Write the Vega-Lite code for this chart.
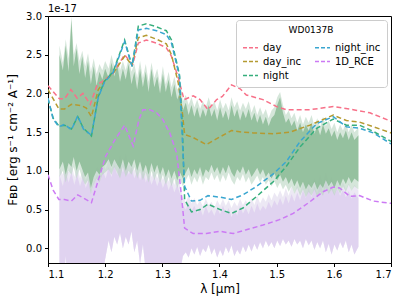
{
  "$schema": "https://vega.github.io/schema/vega-lite/v6.json",
  "width": 343,
  "height": 247,
  "autosize": {"type": "none"},
  "padding": {"left": 48, "top": 16, "right": 16, "bottom": 41},
  "config": {
    "font": "DejaVu Sans",
    "view": {"stroke": "black", "strokeWidth": 1},
    "axis": {"grid": false, "domainColor": "black", "tickColor": "black", "labelColor": "black", "titleColor": "black", "labelFontSize": 10, "titleFontSize": 12, "titleFontWeight": "normal", "tickSize": 3.5, "labelPadding": 3}
  },
  "datasets": {
    "note": [{"label": "1e-17", "x": 1.1, "y": 3.0}],
    "obs": [
      {"x":1.120,"lo":1.02,"hi":2.50,"lo2":0.92,"hi2":2.62},{"x":1.126,"lo":1.12,"hi":2.30,"lo2":1.00,"hi2":2.40},{"x":1.131,"lo":0.95,"hi":2.62,"lo2":0.85,"hi2":2.70},{"x":1.136,"lo":1.10,"hi":2.28,"lo2":1.00,"hi2":2.45},{"x":1.141,"lo":1.05,"hi":2.95,"lo2":0.95,"hi2":3.0},{"x":1.145,"lo":1.18,"hi":2.35,"lo2":1.05,"hi2":2.50},{"x":1.150,"lo":1.00,"hi":2.58,"lo2":0.90,"hi2":2.65},{"x":1.155,"lo":1.12,"hi":2.25,"lo2":1.02,"hi2":2.42},{"x":1.160,"lo":1.02,"hi":2.48,"lo2":0.90,"hi2":2.55},{"x":1.165,"lo":0.92,"hi":2.20,"lo2":0.82,"hi2":2.35},{"x":1.170,"lo":0.98,"hi":2.42,"lo2":0.88,"hi2":2.52},{"x":1.175,"lo":0.78,"hi":2.12,"lo2":0.70,"hi2":2.28},{"x":1.180,"lo":0.92,"hi":2.35,"lo2":0.82,"hi2":2.45},{"x":1.185,"lo":1.00,"hi":2.10,"lo2":0.90,"hi2":2.25},{"x":1.190,"lo":0.95,"hi":2.28,"lo2":0.85,"hi2":2.38},{"x":1.195,"lo":1.05,"hi":2.18,"lo2":0.95,"hi2":2.30},{"x":1.200,"lo":1.08,"hi":2.32,"lo2":0.98,"hi2":2.42},{"x":1.206,"lo":1.15,"hi":2.20,"lo2":1.02,"hi2":2.32},{"x":1.211,"lo":1.05,"hi":2.40,"lo2":0.95,"hi2":2.50},{"x":1.216,"lo":1.15,"hi":2.22,"lo2":1.05,"hi2":2.35},{"x":1.221,"lo":1.08,"hi":2.38,"lo2":0.98,"hi2":2.48},{"x":1.226,"lo":1.02,"hi":2.15,"lo2":0.90,"hi2":2.30},{"x":1.231,"lo":1.15,"hi":2.32,"lo2":1.05,"hi2":2.42},{"x":1.236,"lo":1.00,"hi":2.18,"lo2":0.92,"hi2":2.30},{"x":1.241,"lo":1.12,"hi":2.38,"lo2":1.00,"hi2":2.45},{"x":1.246,"lo":1.05,"hi":2.12,"lo2":0.95,"hi2":2.28},{"x":1.251,"lo":1.15,"hi":2.28,"lo2":1.05,"hi2":2.38},{"x":1.256,"lo":1.00,"hi":2.05,"lo2":0.90,"hi2":2.20},{"x":1.261,"lo":1.12,"hi":2.32,"lo2":1.00,"hi2":2.42},{"x":1.266,"lo":0.98,"hi":2.08,"lo2":0.88,"hi2":2.20},{"x":1.271,"lo":1.08,"hi":2.28,"lo2":0.98,"hi2":2.38},{"x":1.276,"lo":0.95,"hi":2.02,"lo2":0.85,"hi2":2.15},{"x":1.281,"lo":1.10,"hi":2.32,"lo2":1.00,"hi2":2.40},{"x":1.286,"lo":0.98,"hi":2.08,"lo2":0.88,"hi2":2.20},{"x":1.291,"lo":1.08,"hi":2.22,"lo2":0.98,"hi2":2.32},{"x":1.296,"lo":0.95,"hi":2.00,"lo2":0.85,"hi2":2.12},{"x":1.301,"lo":1.05,"hi":2.25,"lo2":0.95,"hi2":2.35},{"x":1.306,"lo":0.92,"hi":2.02,"lo2":0.82,"hi2":2.12},{"x":1.311,"lo":1.02,"hi":2.18,"lo2":0.92,"hi2":2.28},{"x":1.316,"lo":0.90,"hi":1.95,"lo2":0.80,"hi2":2.08},{"x":1.321,"lo":1.00,"hi":2.12,"lo2":0.90,"hi2":2.22},{"x":1.326,"lo":0.88,"hi":1.92,"lo2":0.78,"hi2":2.05},{"x":1.331,"lo":0.98,"hi":2.02,"lo2":0.88,"hi2":2.12},{"x":1.336,"lo":0.90,"hi":1.78,"lo2":0.80,"hi2":1.90},{"x":1.341,"lo":0.98,"hi":1.88,"lo2":0.88,"hi2":1.98},{"x":1.346,"lo":1.05,"hi":1.72,"lo2":0.95,"hi2":1.85},{"x":1.351,"lo":0.92,"hi":1.85,"lo2":0.82,"hi2":1.95},{"x":1.356,"lo":1.02,"hi":1.70,"lo2":0.92,"hi2":1.82},{"x":1.361,"lo":0.95,"hi":1.82,"lo2":0.85,"hi2":1.92},{"x":1.366,"lo":1.05,"hi":1.68,"lo2":0.95,"hi2":1.80},{"x":1.371,"lo":0.92,"hi":1.80,"lo2":0.82,"hi2":1.90},{"x":1.376,"lo":1.02,"hi":1.70,"lo2":0.92,"hi2":1.82},{"x":1.381,"lo":0.98,"hi":1.85,"lo2":0.88,"hi2":1.95},{"x":1.386,"lo":1.08,"hi":1.70,"lo2":0.98,"hi2":1.82},{"x":1.391,"lo":0.98,"hi":1.80,"lo2":0.88,"hi2":1.90},{"x":1.396,"lo":1.05,"hi":1.65,"lo2":0.95,"hi2":1.78},{"x":1.401,"lo":0.95,"hi":1.82,"lo2":0.85,"hi2":1.92},{"x":1.406,"lo":1.05,"hi":1.68,"lo2":0.95,"hi2":1.80},{"x":1.411,"lo":0.97,"hi":1.78,"lo2":0.87,"hi2":1.88},{"x":1.416,"lo":1.08,"hi":1.65,"lo2":0.98,"hi2":1.78},{"x":1.421,"lo":0.98,"hi":1.85,"lo2":0.88,"hi2":1.95},{"x":1.426,"lo":0.92,"hi":1.70,"lo2":0.82,"hi2":1.82},{"x":1.431,"lo":1.02,"hi":1.80,"lo2":0.92,"hi2":1.90},{"x":1.436,"lo":0.97,"hi":1.65,"lo2":0.87,"hi2":1.78},{"x":1.441,"lo":1.06,"hi":1.78,"lo2":0.96,"hi2":1.88},{"x":1.446,"lo":0.95,"hi":1.68,"lo2":0.85,"hi2":1.80},{"x":1.451,"lo":1.02,"hi":1.80,"lo2":0.92,"hi2":1.90},{"x":1.456,"lo":0.92,"hi":1.65,"lo2":0.82,"hi2":1.75},{"x":1.461,"lo":0.98,"hi":1.75,"lo2":0.88,"hi2":1.85},{"x":1.466,"lo":1.04,"hi":1.62,"lo2":0.94,"hi2":1.72},{"x":1.471,"lo":0.95,"hi":1.72,"lo2":0.85,"hi2":1.82},{"x":1.476,"lo":1.02,"hi":1.60,"lo2":0.92,"hi2":1.72},{"x":1.481,"lo":0.92,"hi":1.70,"lo2":0.82,"hi2":1.80},{"x":1.486,"lo":0.98,"hi":1.58,"lo2":0.88,"hi2":1.68},{"x":1.491,"lo":0.90,"hi":1.68,"lo2":0.80,"hi2":1.78},{"x":1.496,"lo":0.97,"hi":1.72,"lo2":0.87,"hi2":1.82},{"x":1.501,"lo":0.88,"hi":1.85,"lo2":0.78,"hi2":1.95},{"x":1.506,"lo":0.95,"hi":1.95,"lo2":0.85,"hi2":2.02},{"x":1.511,"lo":0.86,"hi":1.75,"lo2":0.76,"hi2":1.85},{"x":1.516,"lo":0.92,"hi":1.62,"lo2":0.82,"hi2":1.72},{"x":1.521,"lo":0.83,"hi":1.68,"lo2":0.73,"hi2":1.78},{"x":1.526,"lo":0.90,"hi":1.58,"lo2":0.80,"hi2":1.68},{"x":1.531,"lo":0.80,"hi":1.65,"lo2":0.70,"hi2":1.75},{"x":1.536,"lo":0.88,"hi":1.52,"lo2":0.78,"hi2":1.62},{"x":1.541,"lo":0.78,"hi":1.62,"lo2":0.68,"hi2":1.72},{"x":1.546,"lo":0.86,"hi":1.50,"lo2":0.76,"hi2":1.60},{"x":1.551,"lo":0.76,"hi":1.60,"lo2":0.66,"hi2":1.70},{"x":1.556,"lo":0.83,"hi":1.52,"lo2":0.73,"hi2":1.62},{"x":1.561,"lo":0.78,"hi":1.62,"lo2":0.68,"hi2":1.72},{"x":1.566,"lo":0.86,"hi":1.48,"lo2":0.76,"hi2":1.58},{"x":1.571,"lo":0.76,"hi":1.58,"lo2":0.66,"hi2":1.68},{"x":1.576,"lo":0.83,"hi":1.46,"lo2":0.73,"hi2":1.56},{"x":1.581,"lo":0.78,"hi":1.60,"lo2":0.68,"hi2":1.70},{"x":1.586,"lo":0.88,"hi":1.48,"lo2":0.78,"hi2":1.58},{"x":1.591,"lo":0.80,"hi":1.55,"lo2":0.70,"hi2":1.65},{"x":1.596,"lo":0.86,"hi":1.44,"lo2":0.76,"hi2":1.54},{"x":1.601,"lo":0.78,"hi":1.52,"lo2":0.68,"hi2":1.62},{"x":1.606,"lo":0.88,"hi":1.40,"lo2":0.78,"hi2":1.50},{"x":1.611,"lo":0.80,"hi":1.50,"lo2":0.70,"hi2":1.60},{"x":1.616,"lo":0.90,"hi":1.42,"lo2":0.80,"hi2":1.52},{"x":1.621,"lo":0.83,"hi":1.52,"lo2":0.73,"hi2":1.62},{"x":1.626,"lo":0.92,"hi":1.40,"lo2":0.82,"hi2":1.50},{"x":1.631,"lo":0.84,"hi":1.50,"lo2":0.74,"hi2":1.60},{"x":1.636,"lo":0.90,"hi":1.40,"lo2":0.80,"hi2":1.50},{"x":1.643,"lo":0.86,"hi":1.46,"lo2":0.76,"hi2":1.56}
    ],
    "rce": [
      {"x":1.120,"lo":-0.6,"hi":0.95,"hi2":1.05},{"x":1.126,"lo":-0.6,"hi":0.80,"hi2":0.95},{"x":1.131,"lo":-0.1,"hi":1.00,"hi2":1.08},{"x":1.136,"lo":-0.6,"hi":0.85,"hi2":0.98},{"x":1.141,"lo":-0.6,"hi":0.98,"hi2":1.10},{"x":1.146,"lo":-0.6,"hi":0.82,"hi2":0.92},{"x":1.151,"lo":-0.6,"hi":0.95,"hi2":1.06},{"x":1.156,"lo":-0.6,"hi":0.80,"hi2":0.90},{"x":1.161,"lo":-0.6,"hi":0.92,"hi2":1.02},{"x":1.166,"lo":-0.6,"hi":0.78,"hi2":0.88},{"x":1.171,"lo":-0.6,"hi":0.88,"hi2":0.98},{"x":1.176,"lo":-0.6,"hi":0.72,"hi2":0.84},{"x":1.181,"lo":-0.6,"hi":0.85,"hi2":0.95},{"x":1.186,"lo":-0.6,"hi":0.95,"hi2":1.05},{"x":1.191,"lo":-0.6,"hi":0.88,"hi2":1.00},{"x":1.196,"lo":-0.3,"hi":1.00,"hi2":1.10},{"x":1.201,"lo":-0.1,"hi":0.90,"hi2":1.02},{"x":1.206,"lo":0.10,"hi":1.05,"hi2":1.15},{"x":1.211,"lo":-0.05,"hi":0.92,"hi2":1.02},{"x":1.216,"lo":0.15,"hi":1.08,"hi2":1.18},{"x":1.221,"lo":0.05,"hi":0.95,"hi2":1.06},{"x":1.226,"lo":0.20,"hi":1.10,"hi2":1.20},{"x":1.231,"lo":0.00,"hi":0.98,"hi2":1.08},{"x":1.236,"lo":0.15,"hi":1.12,"hi2":1.22},{"x":1.241,"lo":0.05,"hi":0.95,"hi2":1.06},{"x":1.246,"lo":0.22,"hi":1.05,"hi2":1.15},{"x":1.251,"lo":-0.05,"hi":0.90,"hi2":1.00},{"x":1.256,"lo":0.10,"hi":1.00,"hi2":1.12},{"x":1.261,"lo":-0.2,"hi":0.88,"hi2":0.98},{"x":1.266,"lo":0.05,"hi":1.00,"hi2":1.10},{"x":1.271,"lo":-0.3,"hi":0.85,"hi2":0.96},{"x":1.276,"lo":-0.6,"hi":0.95,"hi2":1.05},{"x":1.281,"lo":-0.6,"hi":0.82,"hi2":0.92},{"x":1.286,"lo":-0.6,"hi":0.92,"hi2":1.02},{"x":1.291,"lo":-0.6,"hi":0.80,"hi2":0.90},{"x":1.296,"lo":-0.6,"hi":0.90,"hi2":1.00},{"x":1.301,"lo":-0.6,"hi":0.78,"hi2":0.88},{"x":1.306,"lo":-0.6,"hi":0.88,"hi2":0.98},{"x":1.311,"lo":-0.6,"hi":0.75,"hi2":0.86},{"x":1.316,"lo":-0.6,"hi":0.85,"hi2":0.95},{"x":1.321,"lo":-0.6,"hi":0.72,"hi2":0.82},{"x":1.326,"lo":-0.6,"hi":0.82,"hi2":0.92},{"x":1.331,"lo":-0.3,"hi":0.70,"hi2":0.80},{"x":1.336,"lo":-0.1,"hi":0.55,"hi2":0.66},{"x":1.341,"lo":-0.05,"hi":0.50,"hi2":0.60},{"x":1.346,"lo":-0.12,"hi":0.58,"hi2":0.68},{"x":1.351,"lo":0.00,"hi":0.48,"hi2":0.58},{"x":1.356,"lo":-0.08,"hi":0.55,"hi2":0.65},{"x":1.361,"lo":0.02,"hi":0.45,"hi2":0.56},{"x":1.366,"lo":-0.10,"hi":0.52,"hi2":0.62},{"x":1.371,"lo":0.00,"hi":0.42,"hi2":0.54},{"x":1.376,"lo":-0.05,"hi":0.55,"hi2":0.64},{"x":1.381,"lo":0.05,"hi":0.45,"hi2":0.56},{"x":1.386,"lo":-0.08,"hi":0.50,"hi2":0.60},{"x":1.391,"lo":0.00,"hi":0.42,"hi2":0.52},{"x":1.396,"lo":-0.12,"hi":0.52,"hi2":0.62},{"x":1.401,"lo":-0.02,"hi":0.44,"hi2":0.55},{"x":1.406,"lo":-0.10,"hi":0.55,"hi2":0.64},{"x":1.411,"lo":0.02,"hi":0.45,"hi2":0.55},{"x":1.416,"lo":-0.06,"hi":0.52,"hi2":0.62},{"x":1.421,"lo":0.04,"hi":0.40,"hi2":0.52},{"x":1.426,"lo":-0.10,"hi":0.50,"hi2":0.60},{"x":1.431,"lo":-0.02,"hi":0.42,"hi2":0.54},{"x":1.436,"lo":-0.08,"hi":0.55,"hi2":0.64},{"x":1.441,"lo":0.03,"hi":0.45,"hi2":0.56},{"x":1.446,"lo":-0.05,"hi":0.52,"hi2":0.62},{"x":1.451,"lo":0.05,"hi":0.44,"hi2":0.55},{"x":1.456,"lo":-0.04,"hi":0.55,"hi2":0.65},{"x":1.461,"lo":0.06,"hi":0.46,"hi2":0.56},{"x":1.466,"lo":-0.02,"hi":0.58,"hi2":0.68},{"x":1.471,"lo":0.08,"hi":0.48,"hi2":0.58},{"x":1.476,"lo":0.00,"hi":0.55,"hi2":0.66},{"x":1.481,"lo":0.10,"hi":0.50,"hi2":0.60},{"x":1.486,"lo":0.02,"hi":0.60,"hi2":0.70},{"x":1.491,"lo":0.08,"hi":0.52,"hi2":0.62},{"x":1.496,"lo":0.00,"hi":0.62,"hi2":0.72},{"x":1.501,"lo":0.10,"hi":0.55,"hi2":0.66},{"x":1.506,"lo":0.03,"hi":0.65,"hi2":0.75},{"x":1.511,"lo":0.12,"hi":0.56,"hi2":0.66},{"x":1.516,"lo":0.05,"hi":0.68,"hi2":0.78},{"x":1.521,"lo":0.10,"hi":0.58,"hi2":0.68},{"x":1.526,"lo":0.02,"hi":0.70,"hi2":0.80},{"x":1.531,"lo":0.12,"hi":0.60,"hi2":0.70},{"x":1.536,"lo":0.05,"hi":0.72,"hi2":0.82},{"x":1.541,"lo":0.10,"hi":0.62,"hi2":0.72},{"x":1.546,"lo":0.00,"hi":0.75,"hi2":0.85},{"x":1.551,"lo":0.12,"hi":0.65,"hi2":0.75},{"x":1.556,"lo":0.04,"hi":0.78,"hi2":0.88},{"x":1.561,"lo":0.10,"hi":0.66,"hi2":0.76},{"x":1.566,"lo":-0.02,"hi":0.80,"hi2":0.90},{"x":1.571,"lo":0.08,"hi":0.70,"hi2":0.80},{"x":1.576,"lo":0.00,"hi":0.85,"hi2":0.95},{"x":1.581,"lo":0.10,"hi":0.72,"hi2":0.82},{"x":1.586,"lo":-0.05,"hi":0.90,"hi2":0.98},{"x":1.591,"lo":0.06,"hi":0.74,"hi2":0.84},{"x":1.596,"lo":-0.08,"hi":0.82,"hi2":0.92},{"x":1.601,"lo":0.05,"hi":0.70,"hi2":0.80},{"x":1.606,"lo":-0.03,"hi":0.78,"hi2":0.88},{"x":1.611,"lo":0.08,"hi":0.68,"hi2":0.78},{"x":1.616,"lo":0.00,"hi":0.76,"hi2":0.86},{"x":1.621,"lo":0.10,"hi":0.66,"hi2":0.76},{"x":1.626,"lo":-0.05,"hi":0.74,"hi2":0.84},{"x":1.631,"lo":0.05,"hi":0.64,"hi2":0.74},{"x":1.636,"lo":-0.08,"hi":0.72,"hi2":0.82},{"x":1.643,"lo":0.02,"hi":0.65,"hi2":0.75}
    ],
    "lines": [
      {"s":"day","x":1.1,"y":2.10},{"s":"day","x":1.12,"y":1.93},{"s":"day","x":1.129,"y":1.93},{"s":"day","x":1.14,"y":2.05},{"s":"day","x":1.151,"y":1.94},{"s":"day","x":1.161,"y":2.0},{"s":"day","x":1.174,"y":1.86},{"s":"day","x":1.186,"y":2.11},{"s":"day","x":1.196,"y":2.16},{"s":"day","x":1.214,"y":2.26},{"s":"day","x":1.234,"y":2.50},{"s":"day","x":1.248,"y":2.37},{"s":"day","x":1.258,"y":2.65},{"s":"day","x":1.272,"y":2.69},{"s":"day","x":1.29,"y":2.65},{"s":"day","x":1.307,"y":2.59},{"s":"day","x":1.316,"y":2.48},{"s":"day","x":1.328,"y":2.2},{"s":"day","x":1.338,"y":1.92},{"s":"day","x":1.354,"y":1.97},{"s":"day","x":1.366,"y":1.92},{"s":"day","x":1.38,"y":1.79},{"s":"day","x":1.395,"y":1.92},{"s":"day","x":1.405,"y":1.96},{"s":"day","x":1.421,"y":2.11},{"s":"day","x":1.436,"y":2.06},{"s":"day","x":1.447,"y":1.98},{"s":"day","x":1.476,"y":1.92},{"s":"day","x":1.5,"y":1.83},{"s":"day","x":1.517,"y":1.79},{"s":"day","x":1.558,"y":1.79},{"s":"day","x":1.599,"y":1.83},{"s":"day","x":1.634,"y":1.79},{"s":"day","x":1.663,"y":1.75},{"s":"day","x":1.7,"y":1.64},
      {"s":"day_inc","x":1.1,"y":2.05},{"s":"day_inc","x":1.119,"y":1.80},{"s":"day_inc","x":1.129,"y":1.80},{"s":"day_inc","x":1.141,"y":1.86},{"s":"day_inc","x":1.159,"y":1.84},{"s":"day_inc","x":1.167,"y":1.81},{"s":"day_inc","x":1.176,"y":1.70},{"s":"day_inc","x":1.188,"y":2.05},{"s":"day_inc","x":1.201,"y":2.18},{"s":"day_inc","x":1.214,"y":2.26},{"s":"day_inc","x":1.234,"y":2.48},{"s":"day_inc","x":1.247,"y":2.37},{"s":"day_inc","x":1.258,"y":2.72},{"s":"day_inc","x":1.272,"y":2.75},{"s":"day_inc","x":1.29,"y":2.70},{"s":"day_inc","x":1.307,"y":2.64},{"s":"day_inc","x":1.316,"y":2.5},{"s":"day_inc","x":1.328,"y":2.13},{"s":"day_inc","x":1.335,"y":1.75},{"s":"day_inc","x":1.339,"y":1.47},{"s":"day_inc","x":1.354,"y":1.43},{"s":"day_inc","x":1.377,"y":1.34},{"s":"day_inc","x":1.401,"y":1.44},{"s":"day_inc","x":1.421,"y":1.52},{"s":"day_inc","x":1.441,"y":1.50},{"s":"day_inc","x":1.459,"y":1.49},{"s":"day_inc","x":1.494,"y":1.48},{"s":"day_inc","x":1.523,"y":1.50},{"s":"day_inc","x":1.558,"y":1.59},{"s":"day_inc","x":1.599,"y":1.72},{"s":"day_inc","x":1.622,"y":1.65},{"s":"day_inc","x":1.645,"y":1.63},{"s":"day_inc","x":1.669,"y":1.57},{"s":"day_inc","x":1.7,"y":1.49},
      {"s":"night","x":1.1,"y":1.93},{"s":"night","x":1.109,"y":1.68},{"s":"night","x":1.119,"y":1.58},{"s":"night","x":1.129,"y":1.59},{"s":"night","x":1.141,"y":1.54},{"s":"night","x":1.152,"y":1.70},{"s":"night","x":1.162,"y":1.55},{"s":"night","x":1.176,"y":1.45},{"s":"night","x":1.188,"y":1.96},{"s":"night","x":1.199,"y":2.16},{"s":"night","x":1.214,"y":2.28},{"s":"night","x":1.234,"y":2.69},{"s":"night","x":1.247,"y":2.35},{"s":"night","x":1.258,"y":2.87},{"s":"night","x":1.272,"y":2.90},{"s":"night","x":1.29,"y":2.86},{"s":"night","x":1.307,"y":2.81},{"s":"night","x":1.316,"y":2.69},{"s":"night","x":1.330,"y":2.24},{"s":"night","x":1.335,"y":1.57},{"s":"night","x":1.339,"y":0.63},{"s":"night","x":1.351,"y":0.47},{"s":"night","x":1.366,"y":0.50},{"s":"night","x":1.380,"y":0.57},{"s":"night","x":1.401,"y":0.50},{"s":"night","x":1.421,"y":0.45},{"s":"night","x":1.441,"y":0.52},{"s":"night","x":1.465,"y":0.67},{"s":"night","x":1.494,"y":0.86},{"s":"night","x":1.517,"y":1.06},{"s":"night","x":1.541,"y":1.31},{"s":"night","x":1.570,"y":1.55},{"s":"night","x":1.599,"y":1.67},{"s":"night","x":1.622,"y":1.59},{"s":"night","x":1.645,"y":1.59},{"s":"night","x":1.669,"y":1.51},{"s":"night","x":1.7,"y":1.38},
      {"s":"night_inc","x":1.1,"y":1.94},{"s":"night_inc","x":1.109,"y":1.67},{"s":"night_inc","x":1.119,"y":1.57},{"s":"night_inc","x":1.129,"y":1.60},{"s":"night_inc","x":1.141,"y":1.53},{"s":"night_inc","x":1.152,"y":1.71},{"s":"night_inc","x":1.162,"y":1.54},{"s":"night_inc","x":1.176,"y":1.46},{"s":"night_inc","x":1.188,"y":1.95},{"s":"night_inc","x":1.199,"y":2.15},{"s":"night_inc","x":1.214,"y":2.27},{"s":"night_inc","x":1.234,"y":2.67},{"s":"night_inc","x":1.247,"y":2.35},{"s":"night_inc","x":1.258,"y":2.82},{"s":"night_inc","x":1.272,"y":2.84},{"s":"night_inc","x":1.29,"y":2.81},{"s":"night_inc","x":1.307,"y":2.76},{"s":"night_inc","x":1.316,"y":2.65},{"s":"night_inc","x":1.330,"y":2.22},{"s":"night_inc","x":1.335,"y":1.40},{"s":"night_inc","x":1.339,"y":0.80},{"s":"night_inc","x":1.351,"y":0.61},{"s":"night_inc","x":1.366,"y":0.62},{"s":"night_inc","x":1.380,"y":0.68},{"s":"night_inc","x":1.401,"y":0.66},{"s":"night_inc","x":1.421,"y":0.63},{"s":"night_inc","x":1.441,"y":0.69},{"s":"night_inc","x":1.465,"y":0.80},{"s":"night_inc","x":1.494,"y":0.96},{"s":"night_inc","x":1.517,"y":1.12},{"s":"night_inc","x":1.541,"y":1.38},{"s":"night_inc","x":1.570,"y":1.61},{"s":"night_inc","x":1.599,"y":1.70},{"s":"night_inc","x":1.622,"y":1.57},{"s":"night_inc","x":1.645,"y":1.55},{"s":"night_inc","x":1.669,"y":1.49},{"s":"night_inc","x":1.7,"y":1.35},
      {"s":"1D_RCE","x":1.1,"y":0.95},{"s":"1D_RCE","x":1.109,"y":0.75},{"s":"1D_RCE","x":1.119,"y":0.63},{"s":"1D_RCE","x":1.129,"y":0.63},{"s":"1D_RCE","x":1.141,"y":0.61},{"s":"1D_RCE","x":1.152,"y":0.69},{"s":"1D_RCE","x":1.162,"y":0.65},{"s":"1D_RCE","x":1.176,"y":0.59},{"s":"1D_RCE","x":1.188,"y":0.88},{"s":"1D_RCE","x":1.201,"y":1.19},{"s":"1D_RCE","x":1.217,"y":1.40},{"s":"1D_RCE","x":1.234,"y":1.59},{"s":"1D_RCE","x":1.249,"y":1.32},{"s":"1D_RCE","x":1.259,"y":1.66},{"s":"1D_RCE","x":1.266,"y":1.79},{"s":"1D_RCE","x":1.278,"y":1.79},{"s":"1D_RCE","x":1.29,"y":1.75},{"s":"1D_RCE","x":1.301,"y":1.66},{"s":"1D_RCE","x":1.313,"y":1.49},{"s":"1D_RCE","x":1.325,"y":1.23},{"s":"1D_RCE","x":1.333,"y":0.71},{"s":"1D_RCE","x":1.339,"y":0.26},{"s":"1D_RCE","x":1.354,"y":0.19},{"s":"1D_RCE","x":1.377,"y":0.19},{"s":"1D_RCE","x":1.401,"y":0.22},{"s":"1D_RCE","x":1.424,"y":0.19},{"s":"1D_RCE","x":1.447,"y":0.24},{"s":"1D_RCE","x":1.476,"y":0.30},{"s":"1D_RCE","x":1.505,"y":0.37},{"s":"1D_RCE","x":1.529,"y":0.45},{"s":"1D_RCE","x":1.558,"y":0.60},{"s":"1D_RCE","x":1.581,"y":0.73},{"s":"1D_RCE","x":1.599,"y":0.79},{"s":"1D_RCE","x":1.61,"y":0.78},{"s":"1D_RCE","x":1.628,"y":0.67},{"s":"1D_RCE","x":1.645,"y":0.68},{"s":"1D_RCE","x":1.669,"y":0.61},{"s":"1D_RCE","x":1.7,"y":0.58}
    ]
  },
  "layer": [
    {
      "data": {"name": "rce"},
      "mark": {"type": "area", "clip": true, "color": "#eae6f3", "opacity": 0.9},
      "encoding": {
        "x": {"field": "x", "type": "quantitative", "scale": {"domain": [1.1, 1.7], "nice": false, "zero": false}},
        "y": {"field": "lo", "type": "quantitative", "scale": {"domain": [-0.19, 3.0], "nice": false, "zero": false}},
        "y2": {"field": "hi2"}
      }
    },
    {
      "data": {"name": "rce"},
      "mark": {"type": "area", "clip": true, "color": "#dfd0ef", "opacity": 0.9},
      "encoding": {
        "x": {"field": "x", "type": "quantitative"},
        "y": {"field": "lo", "type": "quantitative"},
        "y2": {"field": "hi"}
      }
    },
    {
      "data": {"name": "obs"},
      "mark": {"type": "area", "clip": true, "color": "#b9d6c1", "opacity": 0.6},
      "encoding": {
        "x": {"field": "x", "type": "quantitative"},
        "y": {"field": "lo2", "type": "quantitative"},
        "y2": {"field": "hi2"}
      }
    },
    {
      "data": {"name": "obs"},
      "mark": {"type": "area", "clip": true, "color": "#89ba94", "opacity": 0.85},
      "encoding": {
        "x": {"field": "x", "type": "quantitative"},
        "y": {"field": "lo", "type": "quantitative"},
        "y2": {"field": "hi"}
      }
    },
    {
      "data": {"name": "lines"},
      "mark": {"type": "line", "clip": true, "strokeDash": [5, 3], "strokeWidth": 1.5},
      "encoding": {
        "x": {"field": "x", "type": "quantitative", "title": "λ [μm]", "axis": {"values": [1.1, 1.2, 1.3, 1.4, 1.5, 1.6, 1.7], "format": ".1f", "titlePadding": 4}},
        "y": {"field": "y", "type": "quantitative", "title": "Fʙᴅ [erg s⁻¹ cm⁻² A⁻¹]", "axis": {"values": [0, 0.5, 1, 1.5, 2, 2.5, 3], "format": ".1f", "titlePadding": 6}},
        "color": {
          "field": "s", "type": "nominal",
          "scale": {"domain": ["day", "day_inc", "night", "night_inc", "1D_RCE"], "range": ["#f77189", "#b49a31", "#36ae7c", "#3aa6d0", "#cc7af4"]},
          "legend": {"title": "WD0137B", "orient": "top-right", "offset": 4, "columns": 2, "columnPadding": 10, "rowPadding": -2, "symbolType": "stroke", "symbolSize": 225, "symbolStrokeWidth": 1.5, "symbolDash": [4, 2], "labelFontSize": 10, "titleFontSize": 9, "titleFontWeight": "normal", "titleAnchor": "middle", "titlePadding": 4, "fillColor": "white", "strokeColor": "#cccccc", "padding": 6, "cornerRadius": 3, "labelColor": "black", "titleColor": "black"}
        },
        "order": {"field": "x", "type": "quantitative"}
      }
    },
    {
      "data": {"name": "note"},
      "mark": {"type": "text", "align": "left", "baseline": "bottom", "dy": -2, "fontSize": 10, "color": "black"},
      "encoding": {
        "x": {"field": "x", "type": "quantitative"},
        "y": {"field": "y", "type": "quantitative"},
        "text": {"field": "label", "type": "nominal"}
      }
    }
  ]
}
